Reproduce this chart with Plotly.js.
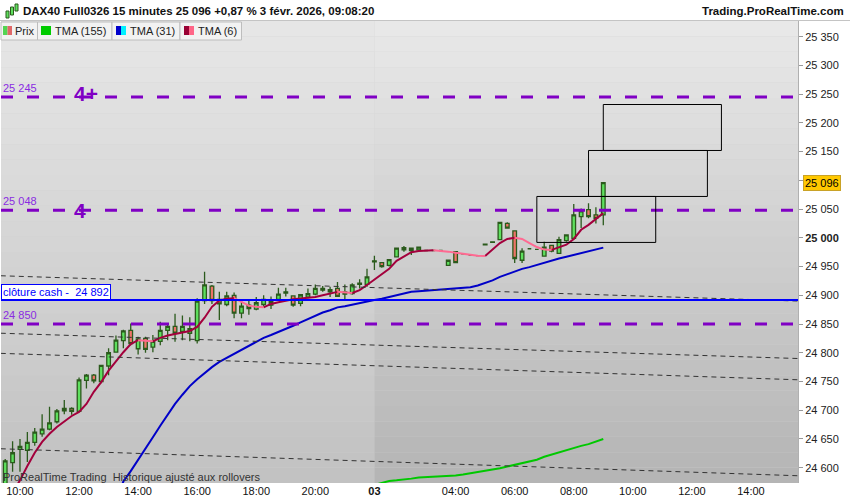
<!DOCTYPE html>
<html>
<head>
<meta charset="utf-8">
<script src="https://cdn.plot.ly/plotly-3.0.1.min.js"></script>
<style>body{margin:0;background:#fff}#chart{width:850px;height:500px}</style>
</head>
<body>
<div id="chart"></div>
<script>
// DAX40 15 min bars, bar 0 = 2 Feb 09:30 ... bar 49 = 21:45, bar 50 = 3 Feb 01:15 ... bar 81 = 09:00
let opens  = [24560,24609,24632,24630,24644,24659,24667,24680,24699,24703,
              24698,24752,24761,24750,24777,24801,24821,24839,24807,24825,
              24810,24820,24839,24846,24837,24834,24821,24891,24916,24893,
              24884,24900,24869,24883,24876,24884,24883,24893,24904,24899,
              24886,24897,24902,24912,24906,24912,24902,24903,24919,24919,
              24958,24957,24952,24967,24979,24982,24979,24978,24978,24978,
              24952,24976,24972,24970,24969,24988,24992,24997,25025,25012,
              24961,24981,24980,24968,24987,24973,24995,24999,25037,25049,
              25040,25040];
let highs  = [24615,24646,24650,24662,24669,24693,24706,24702,24718,24705,
              24757,24763,24763,24779,24808,24830,24840,24851,24828,24828,
              24831,24854,24849,24868,24865,24862,24895,24941,24918,24906,
              24906,24905,24892,24892,24897,24900,24898,24913,24913,24899,
              24902,24912,24919,24916,24915,24923,24919,24921,24928,24946,
              24969,24958,24963,24982,24986,24982,24985,24978,24978,24978,
              24962,24977,24972,24970,24969,24989,24993,25028,25027,25013,
              24982,24981,24980,24993,24987,25002,25005,25059,25051,25060,
              25053,25096];
let lows   = [24550,24593,24593,24610,24638,24654,24665,24677,24693,24692,
              24697,24738,24747,24747,24761,24800,24808,24813,24797,24800,
              24801,24813,24822,24819,24822,24820,24816,24885,24885,24857,
              24881,24860,24860,24866,24874,24880,24876,24892,24898,24880,
              24881,24895,24900,24906,24897,24898,24892,24901,24912,24915,
              24944,24948,24950,24966,24976,24970,24978,24978,24978,24978,
              24951,24956,24972,24970,24969,24988,24992,24996,25017,24956,
              24956,24981,24980,24967,24975,24972,24993,24997,25017,25034,
              25025,25022];
let closes = [24612,24626,24637,24644,24662,24667,24678,24699,24703,24698,
              24753,24761,24751,24778,24800,24822,24838,24816,24824,24806,
              24820,24839,24846,24834,24846,24842,24890,24918,24891,24885,
              24899,24869,24881,24877,24887,24893,24889,24902,24906,24883,
              24901,24903,24912,24909,24910,24898,24906,24918,24921,24932,
              24960,24950,24962,24982,24983,24978,24984,24978,24978,24978,
              24961,24957,24972,24970,24969,24989,24993,25027,25017,24964,
              24977,24981,24980,24984,24977,24997,25005,25040,25047,25037,
              25034,25096];

let tma6   = [24535,24556,24578,24603,24626,24645,24659,24671,24681,24690,
              24697,24711,24732,24749,24769,24786,24801,24815,24822,24821,
              24820,24826,24830,24833,24835,24838,24845,24861,24880,24891,
              24894,24895,24888,24882,24880,24879,24885,24888,24891,24893,
              24894.5,24896,24897,24900,24903,24906,24905,24904,24909,24918,
              24927,24937,24946,24960,24968,24975,24977,24978,24978.5,24977.5,
              24976,24974,24972,24970,24969,24968.5,24979,24991,24998,25000,
              24998,24991,24984,24979.5,24979,24984,24988,24998,25014,25022.5,
              25033,25043];
let tma31  = [null,null,null,null,null,null,null,null,null,null,
              null,null,null,null,null,24544,24576,24594,24613,24634,
              24653,24673,24692,24711,24727,24742,24754,24765,24775,24784,
              24791,24798,24805,24812,24820,24826,24831,24836,24841,24847,
              24853,24859,24865,24870,24874,24879,24881,24884,24887,24889,
              24892,24894,24897,24900,24904,24906,24907,24908,24909,24909.5,
              24910,24911,24912,24914,24917,24921,24926,24932,24937,24942,
              24946,24949,24953,24956,24960,24964,24967,24970,24974,24976,
              24980,24983];
let tma155 = [null,null,null,null,null,null,null,null,null,null,
              null,null,null,null,null,null,null,null,null,null,
              null,null,null,null,null,null,null,null,null,null,
              null,null,null,null,null,null,null,null,null,null,
              null,null,null,null,null,null,null,null,null,null,
              24570,24573,24577,24578,24579,24581,24583,24583.6,24584,24584.6,
              24585.3,24586.5,24588,24590,24592,24594,24597,24599,24602,24605,
              24607,24611,24614,24619,24623,24627,24631,24634,24638,24641,
              24645,24650];

let xTickVals = [2,10,18,26,34,42,50,61,69,77,85,93,101];
let xTickText = ['10:00','12:00','14:00','16:00','18:00','20:00','<b>03</b>','04:00','06:00','08:00','10:00','12:00','14:00'];
let yTickVals = [24600,24650,24700,24750,24800,24850,24900,24950,25000,25050,25100,25150,25200,25250,25300,25350];
// 25 100 sits under the last price tag
let yTickText = ['24 600','24 650','24 700','24 750','24 800','24 850','24 900','24 950','<b>25 000</b>','25 050','','25 150','25 200','25 250','25 300','25 350'];

// drawn objects on the chart
let supportLevels = [25245, 25048, 24850];
let levelLabels   = ['25 245', '25 048', '24 850'];
let levelTags     = ['4+', '4', ''];
let cashClose = 24892;
let trendY0 = [24934, 24834, 24799, 24633];   // at bar -0.6
let trendY1 = [24890, 24790, 24753, 24586];   // at bar 107.4
let boxX0 = [72, 79, 81];
let boxX1 = [88.1, 95.1, 97];
let boxY0 = [24992, 25072, 25152];
let boxY1 = [25072, 25152, 25232];
let dayStart = 50;

let idx = closes.map((c,i) => i);
let xRange = [-0.57, 107.37];
let yRange = [24573.4, 25377.3];

// pixel -> paper helpers (plot area 1..798 x 21..483)
const ML=1, MT=21, PW=797, PH=462;
const px = x => (x-ML)/PW;
const py = y => (MT+PH-y)/PH;
const FONT = 'Liberation Sans, Arial, sans-serif';

// split a line into rising / falling runs
function splitRuns(x, y) {
  let up = {x:[],y:[]}, dn = {x:[],y:[]};
  let prev = null;
  for (let i = 1; i < y.length; i++) {
    if (y[i-1] == null || y[i] == null) continue;
    let dir = y[i] >= y[i-1] ? 'up' : 'dn';
    let t = dir == 'up' ? up : dn;
    if (dir !== prev) {
      if (t.x.length) { t.x.push(null); t.y.push(null); }
      t.x.push(x[i-1]); t.y.push(y[i-1]);
    }
    t.x.push(x[i]); t.y.push(y[i]);
    prev = dir;
  }
  return [up, dn];
}
let [t6up, t6dn] = splitRuns(idx, tma6);

let data = [
  {
    type: 'candlestick', x: idx, open: opens, high: highs, low: lows, close: closes,
    increasing: {fillcolor: '#5ee05e', line: {color: '#2b5a1c', width: 1.3}},
    decreasing: {fillcolor: '#ee7468', line: {color: '#2b5a1c', width: 1.3}},
    whiskerwidth: 0, hoverinfo: 'skip', showlegend: false
  },
  {type: 'scatter', mode: 'lines', x: idx, y: tma155, line: {color: '#00c800', width: 2}, showlegend: false, hoverinfo: 'skip'},
  {type: 'scatter', mode: 'lines', x: idx, y: tma31, line: {color: '#0000c8', width: 2}, showlegend: false, hoverinfo: 'skip'},
  {type: 'scatter', mode: 'lines', x: t6up.x, y: t6up.y, line: {color: '#a3003c', width: 2}, showlegend: false, hoverinfo: 'skip'},
  {type: 'scatter', mode: 'lines', x: t6dn.x, y: t6dn.y, line: {color: '#ff6a92', width: 2}, showlegend: false, hoverinfo: 'skip'}
];

let shapes = [];
// background gradients, previous day lighter
let N = 30;
function grey(v) { v = Math.round(v); return 'rgb('+v+','+v+','+v+')'; }
for (let k = 0; k < N; k++) {
  let f = (k+0.5)/N;
  shapes.push({type:'rect', layer:'below', xref:'x', yref:'paper', x0:-5, x1:dayStart, y0:1-(k+1)/N, y1:1-k/N,
               fillcolor: grey(231 - 38*f), line:{width:0}});
  shapes.push({type:'rect', layer:'below', xref:'x', yref:'paper', x0:dayStart, x1:120, y0:1-(k+1)/N, y1:1-k/N,
               fillcolor: grey(233 - 53*f), line:{width:0}});
}
// trend lines
trendY0.forEach((y0,i) => shapes.push({type:'line', xref:'x', yref:'y', x0:-0.6, x1:107.4, y0:y0, y1:trendY1[i],
  line:{color:'#333', width:1, dash:'5px,4px'}}));
// purple levels
supportLevels.forEach(v => shapes.push({type:'line', xref:'paper', yref:'y', x0:0, x1:1, y0:v, y1:v,
  line:{color:'#8000c4', width:3, dash:'12px,14px'}}));
// cash close
shapes.push({type:'line', xref:'paper', yref:'y', x0:0, x1:1, y0:cashClose, y1:cashClose, line:{color:'#0000ff', width:2}});
// boxes
boxX0.forEach((x0,i) => shapes.push({type:'rect', xref:'x', yref:'y', x0:x0, x1:boxX1[i], y0:boxY0[i], y1:boxY1[i],
  line:{color:'#000', width:1}}));
// header separator
shapes.push({type:'line', xref:'paper', yref:'paper', x0:px(0), x1:px(850), y0:py(20.5), y1:py(20.5), line:{color:'#c4c4c4', width:1}});
// legend boxes
[[1,37.5],[37.5,112],[112,180],[180,241.5]].forEach(b => shapes.push({type:'rect', xref:'paper', yref:'paper',
  x0:px(b[0]), x1:px(b[1]), y0:py(40), y1:py(22), fillcolor:'#f2f2f2', line:{color:'#bdbdbd', width:1}}));
[[3,7.5,'#52d452'],[7.5,12,'#e06868'],[41,51,'#00cc00'],[116,121,'#0000cc'],[121,126,'#00f0ff'],[184,189,'#990033'],[189,194,'#ff6688']]
  .forEach(s => shapes.push({type:'rect', xref:'paper', yref:'paper', x0:px(s[0]), x1:px(s[1]), y0:py(35), y1:py(26),
  fillcolor:s[2], line:{width:0}}));
// header icon
[[6,9,11,18],[10.5,13.5,7,15],[15,18,4,11]].forEach(c => shapes.push({type:'rect', xref:'paper', yref:'paper',
  x0:px(c[0]), x1:px(c[1]), y0:py(c[3]), y1:py(c[2]), fillcolor:'#5ee05e', line:{color:'#2b5a1c', width:1}}));

let annotations = [
  {xref:'paper', yref:'paper', x:px(21), y:py(11), xanchor:'left', yanchor:'middle', showarrow:false,
   text:'<b>DAX40 Full0326 15 minutes 25 096 +0,87 % 3 févr. 2026, 09:08:20</b>', font:{family:FONT, size:11.5, color:'#111'}},
  {xref:'paper', yref:'paper', x:px(846), y:py(11), xanchor:'right', yanchor:'middle', showarrow:false,
   text:'<b>Trading.ProRealTime.com</b>', font:{family:FONT, size:11.5, color:'#111'}},
  {xref:'paper', yref:'paper', x:px(13), y:py(31), xanchor:'left', yanchor:'middle', showarrow:false, text:'Prix', font:{family:FONT, size:11, color:'#222'}},
  {xref:'paper', yref:'paper', x:px(53), y:py(31), xanchor:'left', yanchor:'middle', showarrow:false, text:'TMA (155)', font:{family:FONT, size:11, color:'#222'}},
  {xref:'paper', yref:'paper', x:px(128), y:py(31), xanchor:'left', yanchor:'middle', showarrow:false, text:'TMA (31)', font:{family:FONT, size:11, color:'#222'}},
  {xref:'paper', yref:'paper', x:px(196), y:py(31), xanchor:'left', yanchor:'middle', showarrow:false, text:'TMA (6)', font:{family:FONT, size:11, color:'#222'}},
  {xref:'paper', yref:'paper', x:px(1), y:py(477), xanchor:'left', yanchor:'middle', showarrow:false,
   text:'ProRealTime Trading  Historique ajusté aux rollovers', font:{family:FONT, size:11, color:'#333'}},
  {xref:'paper', yref:'y', x:px(1), y:cashClose, xanchor:'left', yanchor:'bottom', showarrow:false,
   text:'clôture cash -  24 892', font:{family:FONT, size:11, color:'#0000ff'},
   bgcolor:'#fff', bordercolor:'#0000ff', borderwidth:1, borderpad:1},
  {xref:'paper', yref:'y', x:px(803), y:closes[closes.length-1], xanchor:'left', yanchor:'middle', showarrow:false,
   text:'25 096', font:{family:FONT, size:11, color:'#000'}, bgcolor:'#ffc800', bordercolor:'#c9a227', borderwidth:1, borderpad:1}
];
supportLevels.forEach((v,i) => {
  annotations.push({xref:'paper', yref:'y', x:px(1), y:v, yshift:1, xanchor:'left', yanchor:'bottom', showarrow:false,
    text:levelLabels[i], font:{family:FONT, size:11, color:'#8a2be2'}});
  if (levelTags[i]) annotations.push({xref:'paper', yref:'y', x:px(levelTags[i]=='4+' ? 86 : 79.5), y:v, yshift:levelTags[i]=='4+' ? 4 : 0,
    xanchor:'center', yanchor:'middle', showarrow:false,
    text:'<b>'+levelTags[i]+'</b>', font:{family:FONT, size:21, color:'#8000c4'}});
});

let layout = {
  width: 850, height: 500,
  margin: {l:ML, r:850-ML-PW, t:MT, b:500-MT-PH, pad:0},
  paper_bgcolor: '#fff', plot_bgcolor: '#d0d0d0',
  showlegend: false,
  font: {family: FONT, size: 11, color: '#222'},
  xaxis: {type:'linear', range:xRange, rangeslider:{visible:false}, tickvals:xTickVals, ticktext:xTickText,
          showgrid:false, zeroline:false, showline:false, ticks:'', tickfont:{family:FONT, size:11, color:'#111'}},
  yaxis: {side:'right', range:yRange, tickvals:yTickVals, ticktext:yTickText, showgrid:false, zeroline:false,
          showline:true, linecolor:'#b0b0b0', linewidth:1, ticks:'outside', ticklen:4, tickcolor:'#999',
          tickfont:{family:FONT, size:11, color:'#222'}},
  shapes: shapes,
  annotations: annotations
};

Plotly.newPlot('chart', data, layout, {staticPlot: true});
</script>
</body>
</html>
